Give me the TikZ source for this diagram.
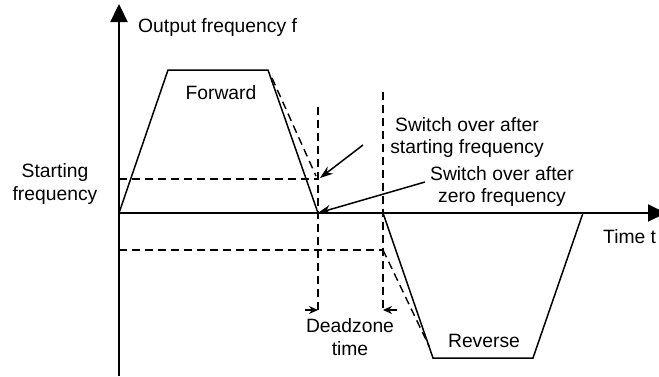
\documentclass[tikz,border=0pt]{standalone}
\usepackage{fontspec}
\setmainfont{Liberation Sans}
\usetikzlibrary{arrows.meta}
\begin{document}
\begin{tikzpicture}[x=1pt,y=-1pt,
  axis/.style={line width=2.4pt,-{Triangle[length=18pt,width=17pt]}},
  curve/.style={line width=1.5pt},
  dsh/.style={line width=1.4pt,dash pattern=on 8pt off 5pt},
  lbl/.style={font=\fontsize{19.3}{23}\selectfont,align=center,inner sep=0pt},
  pointer/.style={line width=1.5pt,-{Stealth[length=13pt,width=9pt]}},
  small/.style={line width=1.4pt,-{Stealth[length=9pt,width=8pt]}},
  ]
\useasboundingbox (0,0) rectangle (659,376);
% key points
\coordinate (O) at (119,213);
\coordinate (ybot) at (119,376);
\coordinate (ytop) at (119,4);
\coordinate (xend) at (666,213);
\coordinate (f1) at (168,70);
\coordinate (f2) at (268,70);
\coordinate (f3) at (318,213);
\coordinate (r1) at (433,358);
\coordinate (r2) at (533,358);
\coordinate (r3) at (583,213);
\coordinate (r0) at (383,213);
\coordinate (sf) at (119,179);
\coordinate (sfe) at (318,179);
\coordinate (nf) at (119,250);
\coordinate (nfe) at (383,250);
\coordinate (v1t) at (318,107);
\coordinate (v1b) at (318,310);
\coordinate (v2t) at (383,92);
\coordinate (v2b) at (383,310);
\coordinate (fd0) at (272,78);
\coordinate (fd1) at (316,176);
\coordinate (rd1) at (429,346);
\coordinate (la) at (305,310);
\coordinate (ra) at (397,310);
\coordinate (p1s) at (363,145);
\coordinate (p1e) at (320,178);
\coordinate (p2s) at (425,182);
% axes
\draw[axis] (ybot) -- (ytop);
\draw[axis,line width=2pt] (O) -- (xend);
% curves
\draw[curve] (O) -- (f1) -- (f2) -- (f3);
\draw[curve] (r0) -- (r1) -- (r2) -- (r3);
% dashed lines
\draw[dsh] (sf) -- (sfe);
\draw[dsh] (nf) -- (nfe);
\draw[dsh] (v1t) -- (v1b);
\draw[dsh] (v2t) -- (v2b);
\draw[dsh] (fd0) -- (fd1);
\draw[dsh] (nfe) -- (rd1);
% deadzone arrows
\draw[small] (la) -- (v1b);
\draw[small] (ra) -- (v2b);
% pointers
\draw[pointer] (p1s) -- (p1e);
\draw[pointer] (p2s) -- (f3);
% labels
\node[lbl,anchor=base west] (ylab) at (138,32) {Output frequency f};
\node[lbl,anchor=base] (fw) at (221,99) {Forward};
\node[lbl,anchor=base] (rv) at (484,347) {Reverse};
\node[lbl,anchor=base] (st1) at (55,177) {Starting};
\node[lbl,anchor=base] (st2) at (55,200) {frequency};
\node[lbl,anchor=base] (s1a) at (467,131) {Switch over after};
\node[lbl,anchor=base] (s1b) at (467,153) {starting frequency};
\node[lbl,anchor=base] (s2a) at (502,180) {Switch over after};
\node[lbl,anchor=base] (s2b) at (502,202) {zero frequency};
\node[lbl,anchor=base west] (tl) at (603,243) {Time t};
\node[lbl,anchor=base] (dz1) at (350,332) {Deadzone};
\node[lbl,anchor=base] (dz2) at (350,355) {time};
\end{tikzpicture}
\end{document}
